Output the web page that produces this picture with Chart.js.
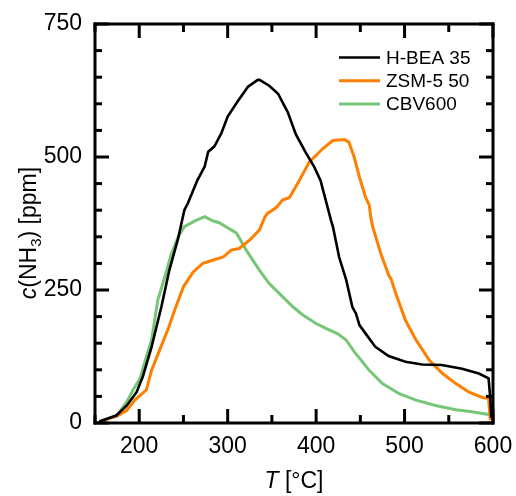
<!DOCTYPE html>
<html>
<head>
<meta charset="utf-8">
<script src="https://cdn.jsdelivr.net/npm/chart.js@4.4.1/dist/chart.umd.min.js"></script>
<style>
  html, body { margin: 0; padding: 0; background: #fff; }
</style>
</head>
<body>
<canvas id="tpdChart" width="516" height="496"></canvas>
<script>
const FONT = 'Arial, "Liberation Sans", sans-serif';

// H-BEA 35
const hbeaT = [155, 174, 186, 197, 204, 214, 225, 234, 244, 251, 255, 266, 274, 278, 285, 293, 300, 311, 323, 334, 336, 347, 357, 368, 377, 388, 398, 405, 411, 417, 419, 426, 434, 441, 445, 449, 456, 467, 482, 501, 520, 542, 565, 584, 595, 597, 598];
const hbeaC = [3, 14, 33, 58, 87, 143, 218, 287, 347, 400, 413, 457, 482, 510, 520, 545, 576, 604, 632, 645, 645, 634, 619, 584, 543, 509, 481, 456, 418, 380, 369, 312, 269, 218, 206, 184, 168, 143, 126, 115, 110, 109, 102, 93, 84, 45, 10];

// ZSM-5 50
const zsmT = [155, 175, 186, 195, 208, 214, 223, 233, 240, 250, 261, 272, 283, 295, 304, 313, 325, 336, 342, 345, 355, 362, 370, 381, 392, 407, 419, 432, 437, 443, 449, 456, 460, 462, 464, 473, 482, 485, 490, 501, 513, 528, 543, 558, 573, 588, 595, 597];
const zsmC = [3, 13, 24, 43, 62, 99, 137, 178, 212, 256, 284, 300, 306, 312, 325, 328, 344, 363, 387, 394, 405, 419, 424, 456, 490, 515, 531, 533, 528, 500, 462, 424, 410, 385, 369, 319, 278, 270, 244, 193, 156, 118, 93, 74, 58, 48, 46, 5];

// CBV600
const cbvT = [155, 175, 186, 193, 201, 208, 214, 221, 229, 236, 244, 251, 263, 274, 282, 291, 298, 304, 310, 321, 336, 347, 358, 374, 385, 400, 411, 424, 434, 443, 451, 460, 475, 494, 513, 535, 558, 576, 595, 597];
const cbvC = [3, 14, 40, 62, 84, 124, 156, 231, 275, 316, 350, 369, 380, 388, 381, 376, 369, 363, 357, 325, 287, 262, 244, 218, 203, 187, 178, 168, 156, 134, 118, 99, 74, 55, 43, 33, 25, 21, 16, 14];

const seriesNames = ['H-BEA 35', 'ZSM-5 50', 'CBV600'];
const seriesColors = ['#000000', '#ff7f00', '#77c677'];

function toPoints(ts, cs) {
  return ts.map((t, i) => ({ x: t, y: cs[i] }));
}

// inward ticks on all four sides plus the box
const frameTicks = {
  id: 'frameTicks',
  afterDraw(chart) {
    const { ctx, chartArea: a, scales: { x, y } } = chart;
    ctx.save();
    ctx.strokeStyle = '#000';
    ctx.lineWidth = 3;
    ctx.lineCap = 'butt';
    const seg = (x1, y1, x2, y2) => {
      ctx.beginPath();
      ctx.moveTo(x1, y1);
      ctx.lineTo(x2, y2);
      ctx.stroke();
    };
    x.ticks.forEach(t => {
      const px = x.getPixelForValue(t.value);
      const len = t.value % 100 === 0 ? 14 : 8;
      seg(px, a.bottom, px, a.bottom - len);
      seg(px, a.top, px, a.top + len);
    });
    y.ticks.forEach(t => {
      const py = y.getPixelForValue(t.value);
      const len = t.value % 250 === 0 ? 14 : 7;
      seg(a.left, py, a.left + len, py);
      seg(a.right, py, a.right - len, py);
    });
    ctx.lineCap = 'square';
    seg(a.left, a.top, a.right, a.top);
    seg(a.right, a.top, a.right, a.bottom);
    seg(a.right, a.bottom, a.left, a.bottom);
    seg(a.left, a.bottom, a.left, a.top);
    ctx.restore();
  }
};

// axis titles with italic symbols and the subscript
const axisTitles = {
  id: 'axisTitles',
  afterDraw(chart) {
    const { ctx, chartArea: a } = chart;
    ctx.save();
    ctx.fillStyle = '#000';
    ctx.textBaseline = 'alphabetic';

    // x title: T [°C]
    const xParts = [
      { s: 'T', f: 'italic 23px ' + FONT },
      { s: ' [°C]', f: '23px ' + FONT }
    ];
    let w = 0;
    xParts.forEach(p => { ctx.font = p.f; p.w = ctx.measureText(p.s).width; w += p.w; });
    let cx = (a.left + a.right) / 2 - w / 2;
    xParts.forEach(p => { ctx.font = p.f; ctx.fillText(p.s, cx, 488); cx += p.w; });

    // y title: c(NH3) [ppm]
    const yParts = [
      { s: 'c', f: 'italic 23px ' + FONT, dy: 0 },
      { s: '(NH', f: '23px ' + FONT, dy: 0 },
      { s: '3', f: '15px ' + FONT, dy: 5 },
      { s: ') [ppm]', f: '23px ' + FONT, dy: 0 }
    ];
    w = 0;
    yParts.forEach(p => { ctx.font = p.f; p.w = ctx.measureText(p.s).width; w += p.w; });
    ctx.translate(36, 233);
    ctx.rotate(-Math.PI / 2);
    cx = -w / 2;
    yParts.forEach(p => { ctx.font = p.f; ctx.fillText(p.s, cx, p.dy); cx += p.w; });
    ctx.restore();
  }
};

// legend in the top right corner
const lineLegend = {
  id: 'lineLegend',
  afterDraw(chart) {
    const { ctx } = chart;
    ctx.save();
    ctx.font = '19px ' + FONT;
    ctx.textBaseline = 'middle';
    ctx.fillStyle = '#000';
    chart.data.datasets.forEach((ds, i) => {
      const yy = 57.5 + i * 23.3;
      ctx.strokeStyle = ds.borderColor;
      ctx.lineWidth = ds.borderWidth;
      ctx.beginPath();
      ctx.moveTo(339, yy);
      ctx.lineTo(380, yy);
      ctx.stroke();
      ctx.fillText(ds.label, 386, yy + 1);
    });
    ctx.restore();
  }
};

const tpdChart = new Chart(document.getElementById('tpdChart'), {
  type: 'line',
  data: {
    datasets: [
      { label: seriesNames[0], data: toPoints(hbeaT, hbeaC), borderColor: seriesColors[0], borderWidth: 2.6 },
      { label: seriesNames[1], data: toPoints(zsmT, zsmC), borderColor: seriesColors[1], borderWidth: 3 },
      { label: seriesNames[2], data: toPoints(cbvT, cbvC), borderColor: seriesColors[2], borderWidth: 3 }
    ]
  },
  options: {
    responsive: false,
    animation: false,
    layout: { padding: { top: 24, right: 23, left: 0, bottom: 0 } },
    elements: {
      point: { radius: 0 },
      line: { tension: 0, fill: false }
    },
    plugins: {
      legend: { display: false },
      tooltip: { enabled: false }
    },
    scales: {
      x: {
        type: 'linear',
        min: 150,
        max: 600,
        grid: { display: false, drawTicks: false },
        border: { display: false },
        afterFit: (scale) => {
          scale.height = 73;
          scale.paddingLeft = 0;
          scale.paddingRight = 0;
        },
        ticks: {
          stepSize: 50,
          autoSkip: false,
          maxRotation: 0,
          padding: 10,
          color: '#000',
          font: { family: FONT, size: 23 },
          callback: (v) => (v % 100 === 0 && v >= 200 ? v : '')
        }
      },
      y: {
        min: 0,
        max: 750,
        grid: { display: false, drawTicks: false },
        border: { display: false },
        afterFit: (scale) => {
          scale.width = 95;
          scale.paddingTop = 0;
          scale.paddingBottom = 0;
        },
        ticks: {
          stepSize: 50,
          autoSkip: false,
          padding: 13,
          color: '#000',
          font: { family: FONT, size: 23 },
          callback: (v) => (v % 250 === 0 ? v : '')
        }
      }
    }
  },
  plugins: [frameTicks, axisTitles, lineLegend]
});
</script>
</body>
</html>
